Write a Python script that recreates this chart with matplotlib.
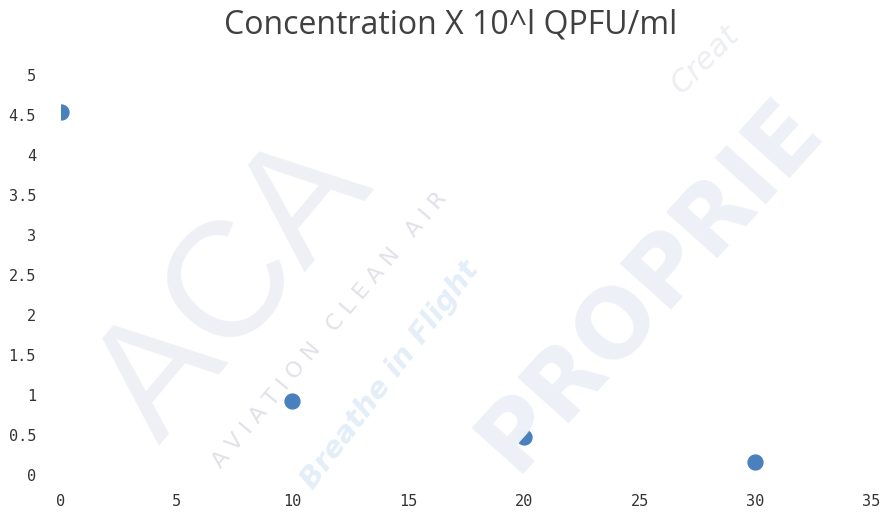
import numpy as np
import matplotlib.pyplot as plt

# data
days = [0, 10, 20, 30]
conc = [4.54, 0.93, 0.48, 0.16]
xticks = [0, 5, 10, 15, 20, 25, 30, 35]
yticks = [0, 0.5, 1, 1.5, 2, 2.5, 3, 3.5, 4, 4.5, 5]
ylabels = ['0', '0.5', '1', '1.5', '2', '2.5', '3', '3.5', '4', '4.5', '5']
title = 'Concentration X 10^l QPFU/ml'

W, H = 885, 516
fig = plt.figure(figsize=(W / 100, H / 100), dpi=100)

# faint watermark behind the chart
def wm(x, y, s, size, color, rot, **kw):
    fig.text(x / W, 1 - y / H, s, fontsize=size, color=color, rotation=rot,
             ha='center', va='center', rotation_mode='anchor', zorder=0, **kw)

wm(235, 290, 'ACA', 118, '#eef0f5', 50, family='Liberation Sans')
wm(330, 330, 'A V I A T I O N   C L E A N   A I R', 16, '#e0e2e8', 50)
wm(390, 375, 'Breathe in Flight', 21, '#e4eef8', 53, style='italic', weight='bold')
wm(650, 285, 'PROPRIE', 68, '#edf0f7', 48, weight='bold')
wm(705, 60, 'Creat', 22, '#eceef2', 45, style='italic')

ax = fig.add_axes([61 / W, 41 / H, 810 / W, 400 / H])
ax.patch.set_alpha(0)
ax.scatter(days, conc, s=115, color='#4a80bd', zorder=3)

ax.set_xlim(0, 35)
ax.set_ylim(0, 5)
ax.set_xticks(xticks)
ax.set_yticks(yticks)
ax.set_yticklabels(ylabels)
for s in ax.spines.values():
    s.set_visible(False)
ax.tick_params(length=0, labelsize=11, colors='#333333')
ax.tick_params(axis='y', pad=18)
ax.tick_params(axis='x', pad=14)
for lab in ax.get_xticklabels() + ax.get_yticklabels():
    lab.set_family('DejaVu Sans Mono')

fig.text(451 / W, 1 - 25 / H, title, fontsize=23, color='#404040',
         ha='center', va='center', family='Open Sans')

plt.savefig('out.png', dpi=100)
